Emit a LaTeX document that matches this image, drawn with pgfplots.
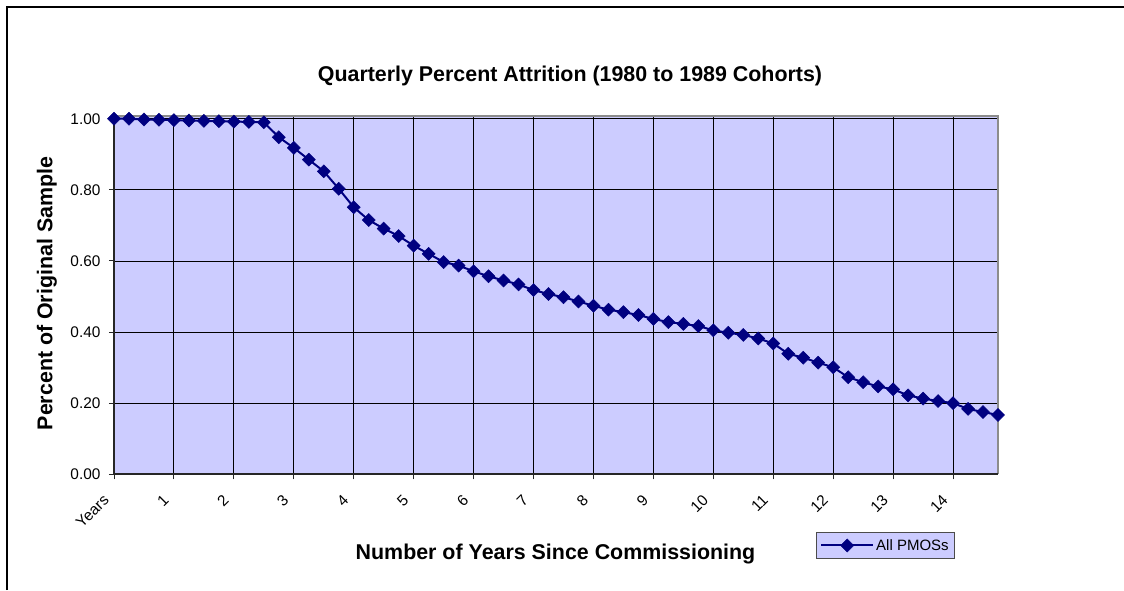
\documentclass[border=0pt]{standalone}
\usepackage{fontspec}
\setmainfont{Liberation Sans}
\usepackage{pgfplots}
\pgfplotsset{compat=1.18}
\definecolor{lav}{RGB}{204,204,255}
\definecolor{navyc}{RGB}{0,0,128}
\pgfplotstableread{
q v
0 1.000
1 1.000
2 0.998
3 0.997
4 0.996
5 0.995
6 0.994
7 0.993
8 0.992
9 0.991
10 0.990
11 0.948
12 0.918
13 0.885
14 0.852
15 0.803
16 0.751
17 0.715
18 0.691
19 0.670
20 0.643
21 0.620
22 0.597
23 0.587
24 0.571
25 0.557
26 0.545
27 0.534
28 0.518
29 0.507
30 0.498
31 0.486
32 0.474
33 0.463
34 0.456
35 0.448
36 0.437
37 0.428
38 0.423
39 0.417
40 0.405
41 0.398
42 0.392
43 0.382
44 0.368
45 0.339
46 0.328
47 0.314
48 0.301
49 0.273
50 0.259
51 0.247
52 0.239
53 0.222
54 0.213
55 0.206
56 0.200
57 0.184
58 0.175
59 0.167
}\attrition
\begin{document}
\begin{tikzpicture}[x=1pt,y=1pt]
\useasboundingbox (0,0) rectangle (1124,590);
\draw[line width=2pt] (7,0) -- (7,583) -- (1124,583);
\node[font=\fontsize{21.4}{24}\selectfont\bfseries, anchor=base] at (570,508) {Quarterly Percent Attrition (1980 to 1989 Cohorts)};
\node[font=\fontsize{21.4}{24}\selectfont\bfseries, rotate=90] at (47,296.5) {Percent of Original Sample};
\node[font=\fontsize{21.4}{24}\selectfont\bfseries, anchor=base] at (555.5,31) {Number of Years Since Commissioning};
\begin{axis}[
  at={(114pt,115.7pt)}, anchor=south west,
  scale only axis, width=884pt, height=358.6pt,
  xmin=0, xmax=59, ymin=0, ymax=1.0085,
  clip=false,
  axis line style={draw=none},
  axis background/.style={fill=lav},
  xtick={0,4,...,56},
  xticklabels={Years,1,2,3,4,5,6,7,8,9,10,11,12,13,14},
  ytick={0,0.2,0.4,0.6,0.8,1.0},
  /pgf/number format/assume math mode=true,
  yticklabel style={xshift=-5pt, /pgf/number format/fixed, /pgf/number format/fixed zerofill, /pgf/number format/precision=2, font=\fontsize{15.4}{18}\selectfont},
  xticklabel style={xshift=-5.5pt, yshift=-16pt, rotate=45, anchor=east, font=\fontsize{15.4}{18}\selectfont},
  tick align=outside, tick pos=left, major tick length=5pt,
  tick style={black!85, line width=1pt},
  grid=major, major grid style={black, line width=0.9pt},
  legend style={at={(0.7938,-0.1617)}, anchor=north west, fill=lav, draw=black!70, line width=1pt, font=\fontsize{15}{17}\selectfont, inner xsep=4pt, inner ysep=4.5pt},
  legend image code/.code={\draw[mark repeat=2,mark phase=2,#1] plot coordinates {(0pt,0pt) (26pt,0pt) (52pt,0pt)};},
]
\draw[black!45, line width=2pt] (rel axis cs:0,1) -- (rel axis cs:1,1) -- (rel axis cs:1,0);
\draw[black!85, line width=2pt] (rel axis cs:0,1) -- (rel axis cs:0,0) -- (rel axis cs:1,0);
\addplot[navyc, line width=2pt, mark=square*, mark size=4.6pt, mark options={rotate=45, solid, fill=navyc, draw=navyc, line width=0.5pt}] table[x=q, y=v] {\attrition};
\addlegendentry{All PMOSs}
\end{axis}
\end{tikzpicture}
\end{document}
